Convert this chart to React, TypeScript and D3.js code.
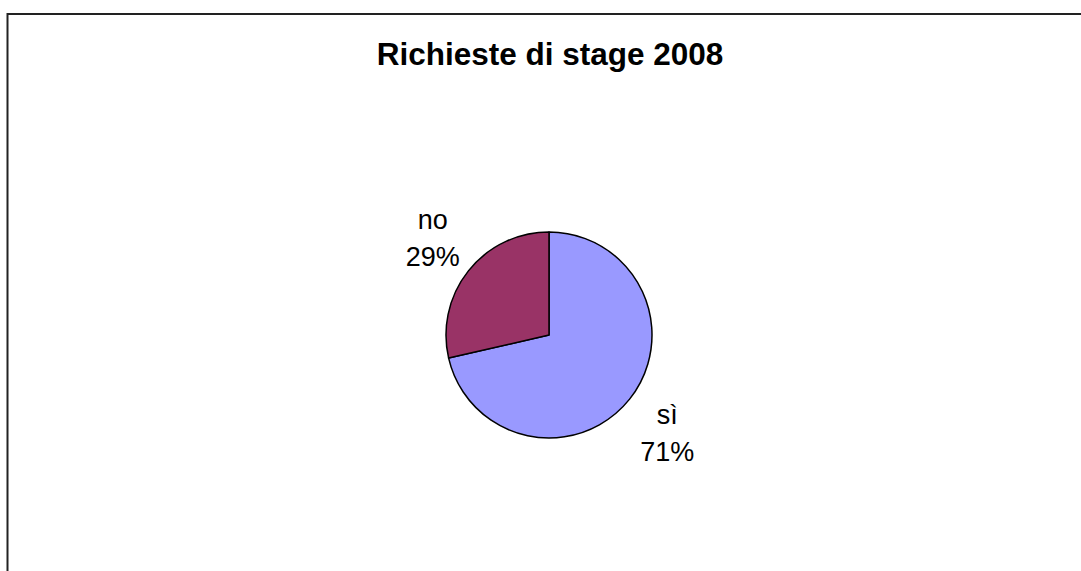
import { useMemo } from "react";
import * as d3 from "d3";

const TITLE = "Richieste di stage 2008";
const categories = ["sì", "no"];
const shares = [71.4, 28.6];
const sliceColors = ["#9999FF", "#993366"];

const W = 1081;
const H = 571;
const CX = 549;
const CY = 335;
const R = 103;
const LABEL_R = 150;

export default function App() {
  const arcs = useMemo(() => {
    const pie = d3
      .pie<number>()
      .sort(null)
      .value((d) => d)
      .startAngle(0)
      .endAngle(2 * Math.PI);
    return pie(shares);
  }, []);

  const arc = d3.arc<d3.PieArcDatum<number>>().innerRadius(0).outerRadius(R);
  const labelArc = d3
    .arc<d3.PieArcDatum<number>>()
    .innerRadius(LABEL_R)
    .outerRadius(LABEL_R);

  const total = d3.sum(shares);

  return (
    <svg
      width={W}
      height={H}
      style={{ position: "absolute", left: 0, top: 0, display: "block" }}
      fontFamily="Arial, 'Liberation Sans', sans-serif"
    >
      <rect width={W} height={H} fill="#fff" />
      {/* chart frame, only top and left edges visible */}
      <path d={`M7.5,${H + 2} V14 H${W + 2}`} fill="none" stroke="#222" strokeWidth={2} />

      <text
        x={550}
        y={65}
        textAnchor="middle"
        fontSize={31.5}
        fontWeight="bold"
        fill="#000"
      >
        {TITLE}
      </text>

      <g transform={`translate(${CX},${CY})`}>
        {arcs.map((a, i) => (
          <path
            key={categories[i]}
            d={arc(a) ?? ""}
            fill={sliceColors[i]}
            stroke="#000"
            strokeWidth={1.5}
            strokeLinejoin="round"
          />
        ))}
        {arcs.map((a, i) => {
          const [lx, ly] = labelArc.centroid(a);
          const pct = Math.round((shares[i] / total) * 100);
          // labels below the pie sit a little lower, like the original
          const first = ly < 0 ? -13 : -4;
          return (
            <text
              key={"l" + categories[i]}
              x={lx}
              y={ly}
              textAnchor="middle"
              fontSize={27}
              fill="#000"
            >
              <tspan x={lx + 1} dy={first}>
                {categories[i]}
              </tspan>
              <tspan x={lx + 1} dy={37}>
                {pct}%
              </tspan>
            </text>
          );
        })}
      </g>
    </svg>
  );
}
